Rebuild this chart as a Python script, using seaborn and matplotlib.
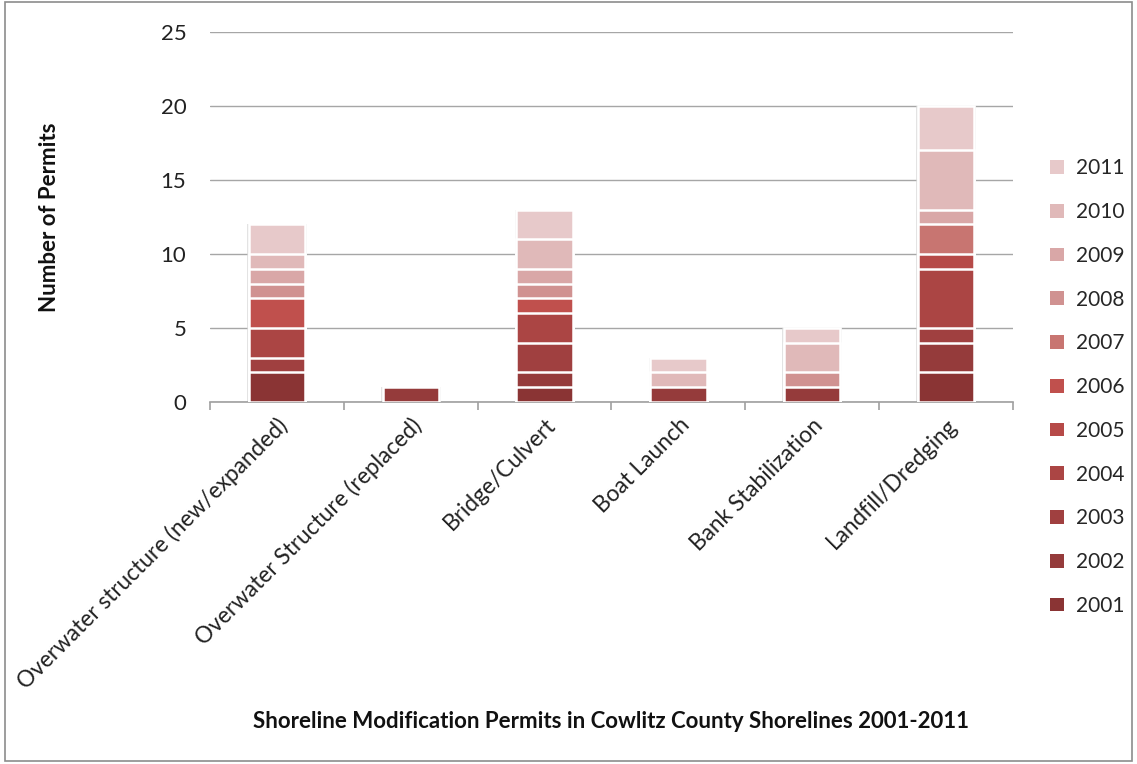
import matplotlib
matplotlib.use("Agg")
import matplotlib.pyplot as plt
from matplotlib.patches import Patch, Rectangle
import pandas as pd
import seaborn as sns

# Permit categories and yearly counts
categories = [
    "Overwater structure (new/expanded)",
    "Overwater Structure (replaced)",
    "Bridge/Culvert",
    "Boat Launch",
    "Bank Stabilization",
    "Landfill/Dredging",
]
years = ["2001", "2002", "2003", "2004", "2005", "2006",
         "2007", "2008", "2009", "2010", "2011"]
y2001 = [2, 0, 1, 0, 0, 2]
y2002 = [0, 1, 1, 1, 1, 2]
y2003 = [1, 0, 2, 0, 0, 1]
y2004 = [2, 0, 2, 0, 0, 4]
y2005 = [0, 0, 0, 0, 0, 1]
y2006 = [2, 0, 1, 0, 0, 0]
y2007 = [0, 0, 0, 0, 0, 2]
y2008 = [1, 0, 1, 0, 1, 0]
y2009 = [1, 0, 1, 0, 0, 1]
y2010 = [1, 0, 2, 1, 2, 4]
y2011 = [2, 0, 2, 1, 1, 3]
counts = [y2001, y2002, y2003, y2004, y2005, y2006,
          y2007, y2008, y2009, y2010, y2011]
yticks = [0, 5, 10, 15, 20, 25]

colors = ["#8a3434", "#953b3b", "#a04040", "#ab4544", "#b64a48", "#c0504d",
          "#c87571", "#d09291", "#d9a7a7", "#e0b9b9", "#e7c9ca"]

sns.set_theme(style="white")
plt.rcParams["font.family"] = ["Lato", "DejaVu Sans"]

fig = plt.figure(figsize=(11.37, 7.64), dpi=100)
ax = fig.add_axes([210 / 1137, 1 - 402 / 764, 803 / 1137, 370 / 764])

# long table with cumulative heights per category
rows = []
for ci, cat in enumerate(categories):
    run = 0
    for yi, yr in enumerate(years):
        v = counts[yi][ci]
        run += v
        rows.append({"category": cat, "year": yr, "count": v, "cum": run})
df = pd.DataFrame(rows)

# soft halo behind each stacked bar
totals = df.groupby("category", sort=False)["count"].sum().reset_index()
sns.barplot(data=totals, x="category", y="count", order=categories,
            color="#d8d8d8", saturation=1, width=0.445, linewidth=0,
            ax=ax, zorder=2, alpha=0.7)

# stacked segments, drawn from the top layer down
for yi in range(len(years) - 1, -1, -1):
    layer = df[(df["year"] == years[yi]) & (df["count"] > 0)]
    if layer.empty:
        continue
    sns.barplot(data=layer, x="category", y="cum", order=categories,
                color=colors[yi], saturation=1, width=0.42,
                edgecolor="white", linewidth=1.8, ax=ax, zorder=3)

ax.set_xlim(-0.5, len(categories) - 0.5)
ax.set_ylim(0, 25)
ax.set_yticks(yticks)
ax.set_yticklabels([str(t) for t in yticks], fontsize=16, color="#222222")
ax.yaxis.grid(True, color="#a6a6a6", linewidth=1)
ax.set_axisbelow(True)
for s in ["left", "right", "top"]:
    ax.spines[s].set_visible(False)
ax.spines["bottom"].set_color("#a0a0a0")
ax.spines["bottom"].set_linewidth(1.2)
ax.tick_params(axis="y", length=0, pad=17)

ax.set_xticks(range(len(categories)))
ax.set_xticklabels(categories, rotation=45, ha="right", rotation_mode="anchor",
                   fontsize=16.3, color="#222222")
ax.set_xticks([i - 0.5 for i in range(len(categories) + 1)], minor=True)
ax.tick_params(axis="x", which="major", length=0, pad=9)
ax.tick_params(axis="x", which="minor", length=6, width=1.2, color="#a0a0a0",
               bottom=True, direction="out")

ax.set_xlabel("")
ax.set_ylabel("")
fig.text(50 / 1137, 1 - 217 / 764, "Number of Permits", rotation=90,
         ha="center", va="center", fontsize=16, fontweight="bold", color="#111111")
fig.text(611 / 1137, 1 - 722 / 764,
         "Shoreline Modification Permits in Cowlitz County Shorelines 2001-2011",
         ha="center", va="center", fontsize=16, fontweight="bold", color="#111111")

handles = [Patch(facecolor=colors[i], edgecolor="none") for i in range(len(years) - 1, -1, -1)]
labels = [years[i] for i in range(len(years) - 1, -1, -1)]
fig.legend(handles, labels, loc="upper left",
           bbox_to_anchor=(1042 / 1137, 1 - 150 / 764), frameon=False,
           fontsize=15, labelspacing=1.14, handlelength=0.65, handleheight=0.65,
           handletextpad=0.6, borderaxespad=0)

fig.patches.append(Rectangle((0.004, 0.004), 0.992, 0.993, transform=fig.transFigure,
                             fill=False, edgecolor="#8c8c8c", linewidth=1.2))

fig.savefig("out.png", dpi=100, facecolor="white")
